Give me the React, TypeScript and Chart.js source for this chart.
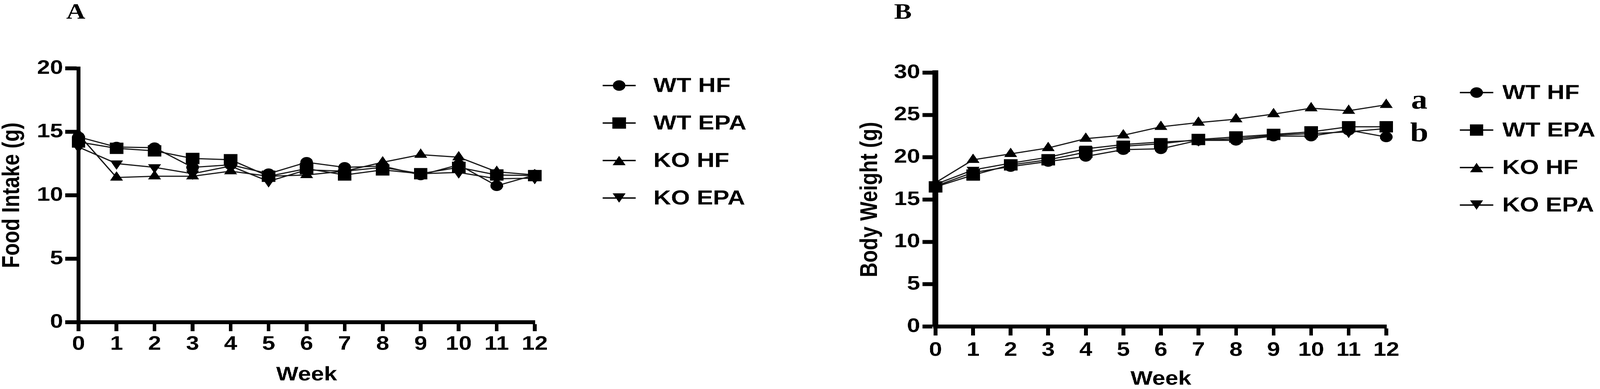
import React, { useEffect, useRef } from 'react';
import { Chart, registerables } from 'chart.js';

Chart.register(...registerables);

// ---------- data ----------
const weeks = [0, 1, 2, 3, 4, 5, 6, 7, 8, 9, 10, 11, 12];
const seriesLabels = ['WT HF', 'WT EPA', 'KO HF', 'KO EPA'];

// Panel A: Food Intake (g)
const foodWtHf = [14.6, 13.8, 13.75, 12.2, 12.4, 11.7, 12.6, 12.2, 12.3, 11.6, 12.4, 10.75, 11.6];
const foodWtEpa = [14.2, 13.7, 13.5, 12.9, 12.8, 11.5, 12.1, 11.6, 12.0, 11.7, 12.2, 11.6, 11.55];
const foodKoHf = [14.8, 11.4, 11.5, 11.5, 11.9, 11.5, 11.6, 11.9, 12.6, 13.2, 13.0, 11.85, 11.6];
const foodKoEpa = [13.8, 12.5, 12.2, 11.7, 12.3, 11.1, 12.0, 11.9, 12.2, 11.7, 11.8, 11.3, 11.35];

// Panel B: Body Weight (g)
const bodyWtHf = [16.6, 18.2, 18.9, 19.5, 20.1, 20.9, 21.0, 22.0, 22.0, 22.5, 22.5, 23.2, 22.4];
const bodyWtEpa = [16.5, 17.9, 19.1, 19.7, 20.6, 21.3, 21.6, 22.1, 22.4, 22.7, 23.0, 23.6, 23.6];
const bodyKoHf = [17.0, 19.7, 20.4, 21.1, 22.2, 22.6, 23.6, 24.1, 24.5, 25.1, 25.8, 25.5, 26.2];
const bodyKoEpa = [16.8, 18.5, 19.3, 20.0, 21.0, 21.5, 21.8, 22.0, 22.2, 22.6, 22.8, 23.0, 23.4];

const foodAxis = { min: 0, max: 20, step: 5 };
const bodyAxis = { min: 0, max: 30, step: 5 };
const weekAxis = { min: 0, max: 12, step: 1 };
const significanceLabels = ['a', 'b'];

// ---------- styles ----------
const pointStyles = ['circle', 'rect', 'triangle', 'triangle'];
const pointRotations = [0, 0, 0, 180];
const pointRadii = [13.5, 20.5, 16, 16];

const SANS = '"Liberation Sans", Arial, sans-serif';
const SERIF = '"Liberation Serif", "Times New Roman", serif';
const SX = 1.2; // horizontal stretch of the original figure
const PANEL_W = 1721;
const H = 996;

function drawMarker(ctx: CanvasRenderingContext2D, style: string, rot: number, r: number, x: number, y: number) {
  ctx.beginPath();
  if (style === 'circle') {
    ctx.arc(x, y, r, 0, Math.PI * 2);
  } else if (style === 'rect') {
    const s = r * Math.SQRT1_2;
    ctx.rect(x - s, y - s, 2 * s, 2 * s);
  } else {
    const hw = r * Math.sin((2 * Math.PI) / 3);
    if (rot === 180) {
      const cy = y - r / 4;
      ctx.moveTo(x, cy + r);
      ctx.lineTo(x + hw, cy - r / 2);
      ctx.lineTo(x - hw, cy - r / 2);
    } else {
      const cy = y + r / 4;
      ctx.moveTo(x, cy - r);
      ctx.lineTo(x + hw, cy + r / 2);
      ctx.lineTo(x - hw, cy + r / 2);
    }
    ctx.closePath();
  }
  ctx.fill();
}

type PanelCfg = {
  letter: string;
  letterX: number;
  letterY: number;
  legendX: number;
  textX: number;
  legendRow0: number;
  legendStep: number;
  padLeft: number;
  yWidth: number;
  padTop: number;
  padRight: number;
  xHeight: number;
  yAxis: { min: number; max: number; step: number };
  yBorder: number;
  xTitleLH: number;
  xTitlePad: number;
  xTickPad: number;
  yTitle: string;
  series: number[][];
  extra: { t: string; x: number; y: number }[];
};

function makePlugin(cfg: PanelCfg) {
  return {
    id: 'panelAnnot' + cfg.letter,
    afterDraw(chart: any) {
      const ctx: CanvasRenderingContext2D = chart.ctx;
      ctx.save();
      ctx.fillStyle = '#000';
      ctx.strokeStyle = '#000';
      // panel letter
      ctx.font = `bold 56px ${SERIF}`;
      ctx.textAlign = 'center';
      ctx.textBaseline = 'alphabetic';
      ctx.fillText(cfg.letter, cfg.letterX, cfg.letterY);
      // significance letters
      ctx.font = `bold 70px ${SERIF}`;
      cfg.extra.forEach((e) => ctx.fillText(e.t, e.x, e.y));
      // legend
      chart.data.datasets.forEach((ds: any, i: number) => {
        const y = cfg.legendRow0 + i * cfg.legendStep;
        ctx.lineWidth = 3.5;
        ctx.beginPath();
        ctx.moveTo(cfg.legendX - 35.4, y);
        ctx.lineTo(cfg.legendX + 35.4, y);
        ctx.stroke();
        drawMarker(ctx, ds.pointStyle, ds.pointRotation, ds.pointRadius, cfg.legendX, y);
        ctx.font = `bold 52px ${SANS}`;
        ctx.textAlign = 'left';
        ctx.textBaseline = 'middle';
        ctx.fillText(ds.label, cfg.textX, y + 2);
      });
      ctx.restore();
    },
  };
}

function Panel({ left, cfg }: { left: number; cfg: PanelCfg }) {
  const ref = useRef<HTMLCanvasElement>(null);
  useEffect(() => {
    if (!ref.current) return;
    const datasets = seriesLabels.map((label, i) => ({
      label,
      data: weeks.map((w, j) => ({ x: w, y: cfg.series[i][j] })),
      borderColor: '#1a1a1a',
      borderWidth: 3,
      backgroundColor: '#000',
      pointStyle: pointStyles[i],
      pointRotation: pointRotations[i],
      pointRadius: pointRadii[i],
      pointHoverRadius: pointRadii[i],
      pointBackgroundColor: '#000',
      pointBorderColor: '#000',
      pointBorderWidth: 0,
      tension: 0,
      fill: false,
      clip: false as any,
    }));
    const tickFont = { family: SANS, size: 50, weight: 'bold' as const };
    const chart = new Chart(ref.current, {
      type: 'line',
      data: { datasets: datasets as any },
      options: {
        animation: false,
        responsive: true,
        maintainAspectRatio: false,
        devicePixelRatio: 2,
        layout: { padding: { left: cfg.padLeft, top: cfg.padTop, right: cfg.padRight, bottom: 0 } },
        plugins: { legend: { display: false }, tooltip: { enabled: false } },
        events: [],
        scales: {
          x: {
            type: 'linear',
            min: weekAxis.min,
            max: weekAxis.max,
            ticks: { stepSize: weekAxis.step, font: tickFont, color: '#000', padding: cfg.xTickPad, autoSkip: false, maxRotation: 0 },
            grid: { display: true, drawOnChartArea: false, drawTicks: true, tickLength: 23, tickWidth: 8, tickColor: '#000' },
            border: { display: true, color: '#000', width: 10 },
            title: {
              display: true,
              text: 'Week',
              color: '#000',
              font: { family: SANS, size: 50, weight: 'bold', lineHeight: cfg.xTitleLH },
              padding: { top: 0, bottom: cfg.xTitlePad },
            },
            afterFit: (s: any) => {
              s.height = cfg.xHeight;
            },
          },
          y: {
            type: 'linear',
            min: cfg.yAxis.min,
            max: cfg.yAxis.max,
            ticks: { stepSize: cfg.yAxis.step, font: tickFont, color: '#000', padding: 5 },
            grid: { display: true, drawOnChartArea: false, drawTicks: true, tickLength: 28, tickWidth: 10, tickColor: '#000' },
            border: { display: true, color: '#000', width: cfg.yBorder },
            title: {
              display: true,
              text: cfg.yTitle,
              color: '#000',
              font: { family: SANS, size: 52, weight: 'bold', lineHeight: 1 },
              padding: { top: 0, bottom: 0 },
            },
            afterFit: (s: any) => {
              s.width = cfg.yWidth;
            },
          },
        },
      } as any,
      plugins: [makePlugin(cfg)],
    });
    return () => chart.destroy();
  }, []);
  return (
    <div style={{ position: 'absolute', left, top: 0, width: PANEL_W, height: H }}>
      <canvas ref={ref} />
    </div>
  );
}

const panelA: PanelCfg = {
  letter: 'A',
  letterX: 161.7,
  letterY: 48,
  legendX: 1320.8,
  textX: 1394,
  legendRow0: 219,
  legendStep: 96,
  padLeft: 0,
  yWidth: 167.5,
  padTop: 175,
  padRight: 580.2,
  xHeight: 171,
  yAxis: foodAxis,
  yBorder: 9,
  xTitleLH: 1.2,
  xTitlePad: 6,
  xTickPad: 3.5,
  yTitle: 'Food Intake (g)',
  series: [foodWtHf, foodWtEpa, foodKoHf, foodKoEpa],
  extra: [],
};

const panelB: PanelCfg = {
  letter: 'B',
  letterX: 205,
  letterY: 48,
  legendX: 1429,
  textX: 1484,
  legendRow0: 237,
  legendStep: 96,
  padLeft: 109.7,
  yWidth: 165.1,
  padTop: 186,
  padRight: 484.7,
  xHeight: 160,
  yAxis: bodyAxis,
  yBorder: 12.5,
  xTitleLH: 0.8,
  xTitlePad: 5,
  xTickPad: 8,
  yTitle: 'Body Weight (g)',
  series: [bodyWtHf, bodyWtEpa, bodyKoHf, bodyKoEpa],
  extra: [
    { t: significanceLabels[0], x: 1306.7, y: 278 },
    { t: significanceLabels[1], x: 1306.7, y: 362 },
  ],
};

export default function App() {
  return (
    <div
      style={{
        position: 'absolute',
        left: 0,
        top: 0,
        width: PANEL_W * 2,
        height: H,
        transform: `scaleX(${SX})`,
        transformOrigin: '0 0',
        background: '#fff',
      }}
    >
      <Panel left={0} cfg={panelA} />
      <Panel left={PANEL_W} cfg={panelB} />
    </div>
  );
}
